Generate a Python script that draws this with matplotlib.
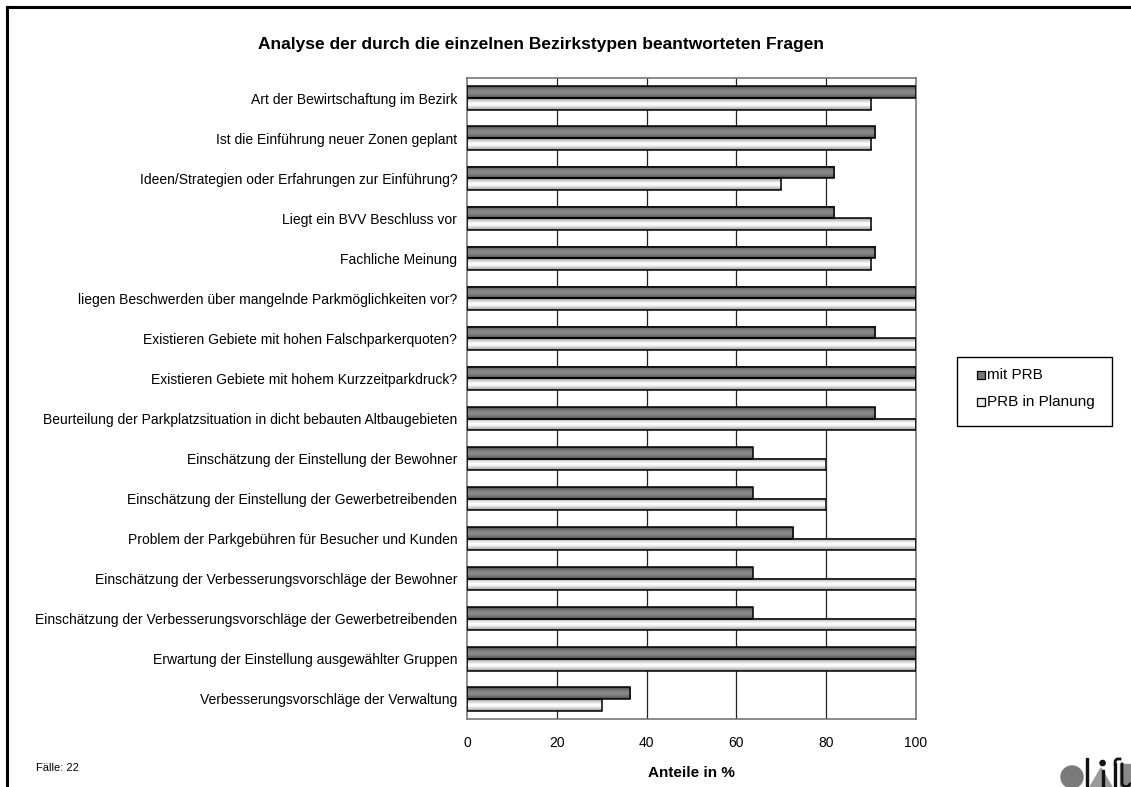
import numpy as np
import matplotlib
matplotlib.use("Agg")
import matplotlib.pyplot as plt
from matplotlib.patches import Rectangle, Circle, Polygon
from matplotlib.lines import Line2D

plt.rcParams["font.family"] = ["Liberation Sans", "DejaVu Sans"]

categories = [
    "Art der Bewirtschaftung im Bezirk",
    "Ist die Einführung neuer Zonen geplant",
    "Ideen/Strategien oder Erfahrungen zur Einführung?",
    "Liegt ein BVV Beschluss vor",
    "Fachliche Meinung",
    "liegen Beschwerden über mangelnde Parkmöglichkeiten vor?",
    "Existieren Gebiete mit hohen Falschparkerquoten?",
    "Existieren Gebiete mit hohem Kurzzeitparkdruck?",
    "Beurteilung der Parkplatzsituation in dicht bebauten Altbaugebieten",
    "Einschätzung der Einstellung der Bewohner",
    "Einschätzung der Einstellung der Gewerbetreibenden",
    "Problem der Parkgebühren für Besucher und Kunden",
    "Einschätzung der Verbesserungsvorschläge der Bewohner",
    "Einschätzung der Verbesserungsvorschläge der Gewerbetreibenden",
    "Erwartung der Einstellung ausgewählter Gruppen",
    "Verbesserungsvorschläge der Verwaltung",
]
mit_prb = [100, 90.9, 81.8, 81.8, 90.9, 100, 90.9, 100, 90.9,
           63.6, 63.6, 72.7, 63.6, 63.6, 100, 36.4]
prb_planung = [90, 90, 70, 90, 90, 100, 100, 100, 100,
               80, 80, 100, 100, 100, 100, 30]
series_names = ["mit PRB", "PRB in Planung"]
xticks = [0, 20, 40, 60, 80, 100]

W, H = 1131, 787
fig = plt.figure(figsize=(W / 100, H / 100), dpi=100)

# page frame (top and left rule)
fig.add_artist(Line2D([7 / W, 7 / W], [0, 1 - 7 / H], color="black", lw=2.2))
fig.add_artist(Line2D([7 / W, 1], [1 - 7 / H, 1 - 7 / H], color="black", lw=2.2))

ax = fig.add_axes([467 / W, 1 - 719 / H, (916 - 467) / W, (719 - 78) / H])
n = len(categories)

bh = 0.29


def shade(c_edge, c_mid):
    t = np.linspace(0, 1, 32)
    w = 1 - np.abs(2 * t - 1) ** 1.6
    e = np.array(matplotlib.colors.to_rgb(c_edge))
    m = np.array(matplotlib.colors.to_rgb(c_mid))
    col = e[None, :] * (1 - w[:, None]) + m[None, :] * w[:, None]
    return col[:, None, :]


dark_grad = shade("#4a4a4a", "#8a8a8a")
light_grad = shade("#8f8f8f", "#ffffff")

for i in range(n):
    for val, y0, grad in ((mit_prb[i], i - bh, dark_grad),
                          (prb_planung[i], i, light_grad)):
        ax.imshow(grad, extent=(0, val, y0 + bh, y0), aspect="auto",
                  interpolation="bilinear", zorder=2)
        ax.add_patch(Rectangle((0, y0), val, bh, fill=False,
                               edgecolor="black", lw=1.1, zorder=3))

ax.set_xlim(0, 100)
ax.set_ylim(n - 0.5, -0.5)
for x in xticks[1:-1]:
    ax.axvline(x, color="#222222", lw=0.9, zorder=1)
for s in ax.spines.values():
    s.set_color("#777777")
    s.set_linewidth(1.2)

ax.set_yticks(range(n))
ax.set_yticklabels(categories, fontsize=10)
ax.set_xticks(xticks)
ax.set_xticklabels([str(v) for v in xticks], fontsize=10)
ax.tick_params(axis="y", length=0, pad=7)
ax.tick_params(axis="x", length=0, pad=12)

ax.set_xlabel("Anteile in %", fontsize=11, fontweight="bold", labelpad=12)

fig.text(541 / W, 1 - 44 / H,
         "Analyse der durch die einzelnen Bezirkstypen beantworteten Fragen",
         ha="center", va="center", fontsize=12.5, fontweight="bold")
fig.text(36 / W, 1 - 768 / H, "Fälle: 22", ha="left", va="center", fontsize=8)

# legend box
lg_x0, lg_y0, lg_x1, lg_y1 = 957, 357, 1112, 426
fig.add_artist(Rectangle((lg_x0 / W, 1 - lg_y1 / H), (lg_x1 - lg_x0) / W,
                         (lg_y1 - lg_y0) / H, fill=False, edgecolor="black",
                         lw=1.0, transform=fig.transFigure))
for k, (name, fc) in enumerate(zip(series_names, ["#777777", "#e8e8e8"])):
    yc = 375 + k * 27
    fig.add_artist(Rectangle((977 / W, 1 - (yc + 4) / H), 8 / W, 8 / H,
                             facecolor=fc, edgecolor="black", lw=0.9,
                             transform=fig.transFigure))
    fig.text(987 / W, 1 - yc / H, name, ha="left", va="center", fontsize=11)

# logo, anchored at the bottom right corner
logo = fig.add_axes([1050 / W, 0, 81 / W, 40 / H])
logo.set_xlim(0, 81)
logo.set_ylim(0, 40)
logo.axis("off")
logo.add_patch(Circle((22, 10), 11, color="#7a7a7a"))
logo.add_patch(Rectangle((36, 0), 2.2, 29, color="#111111"))
logo.add_patch(Polygon([[40, 0], [62, 0], [51, 19]], color="#9a9a9a"))
logo.add_patch(Rectangle((51.5, 0), 2.2, 17, color="#111111"))
logo.add_patch(Circle((52.6, 24), 2.6, color="#111111"))
logo.add_patch(Rectangle((70, 0), 11, 23, color="#8a8a8a"))
logo.add_patch(Rectangle((64, 0), 2.2, 24, color="#111111"))
logo.plot([65.1, 65.1, 67, 70], [23, 26, 28, 28], color="#111111", lw=2)
logo.plot([72, 72, 74, 78, 80], [23, 3, 0.5, 0.5, 3], color="#111111", lw=2)

fig.savefig("out.png", dpi=100)
